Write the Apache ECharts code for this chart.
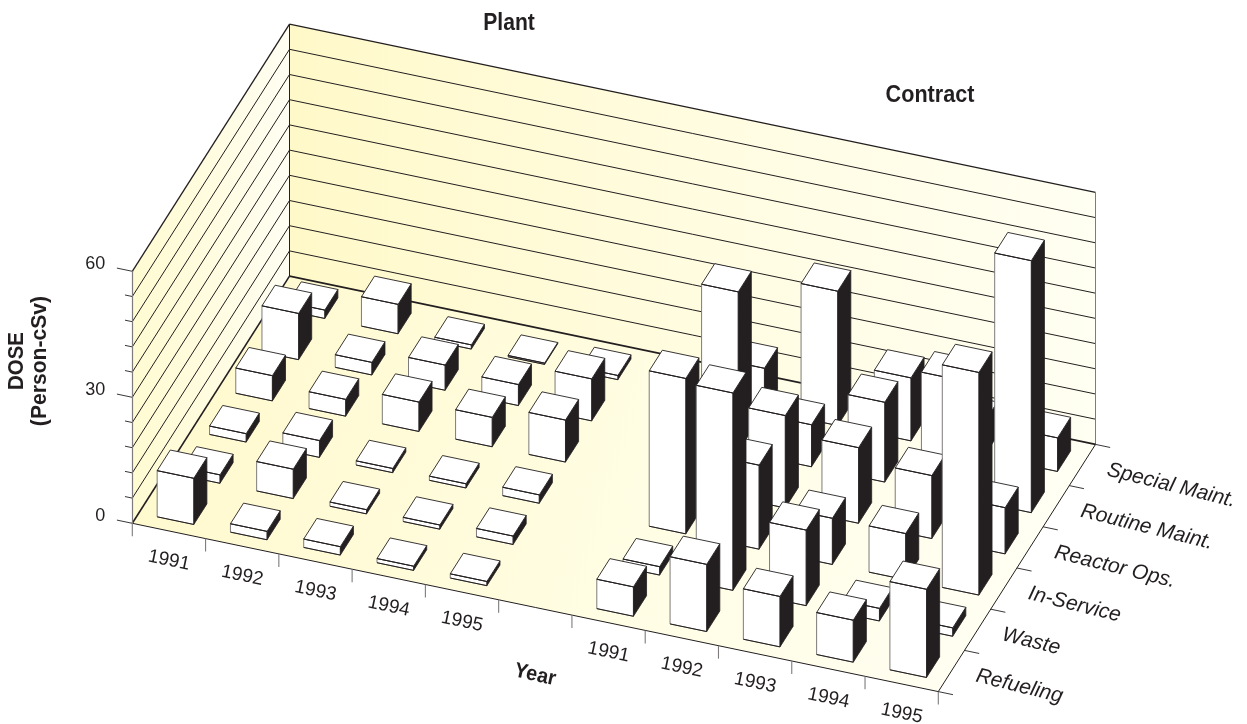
<!DOCTYPE html>
<html><head><meta charset="utf-8">
<style>html,body{margin:0;padding:0;background:#fff}#c{width:1247px;height:724px}</style>
<script src="https://cdn.jsdelivr.net/npm/echarts@6/dist/echarts.min.js"></script>
</head><body><div id="c"></div>
<script>
var years = ['1991','1992','1993','1994','1995','','1991','1992','1993','1994','1995'];
var activities = ['Refueling','Waste','In-Service','Reactor Ops.','Routine Maint.','Special Maint.'];
var yearSlots = [0,1,2,3,4,6,7,8,9,10];
// One list per activity: plant 1991-95 followed by contract 1991-95
var refueling    = [11, 2, 2, 1, 1,   7, 16, 12, 10, 21];
var waste        = [ 2, 7, 1, 1, 2,   2, 47, 18,  3,  2];
var inService    = [ 2, 4, 1, 1, 2,  37, 20, 11, 11, 53];
var reactorOps   = [ 6, 4, 7, 7,10,  12, 22, 18, 15, 11];
var routineMaint = [11, 3, 6, 5,10,  38, 10, 19, 28, 60];
var specialMaint = [ 2, 7, 1,0.3,1,  10, 32, 15,  8,  8];
var doseRows = [refueling, waste, inService, reactorOps, routineMaint, specialMaint];
var doseTicks = [0,30,60];

var INK='#231F20', GREY='#7d7b7b';
var SLANT_Y=15.3, DEPTH_X=26.2, DEPTH_Y=-41.2, BW=0.5;
var NX=years.length, ND=activities.length, ZMAX=60, ZSTEP=6;
var FONT='"Liberation Sans",Arial,sans-serif';

function projector(api){
  return function(x,d,z){
    var p=api.coord([x,z]);
    return [p[0]+d*DEPTH_X, p[1]+x*SLANT_Y+d*DEPTH_Y];
  };
}
function grad(x1,y1,x2,y2,c1,c2,c3){
  return new echarts.graphic.LinearGradient(x1,y1,x2,y2,[{offset:0,color:c1},{offset:.5,color:c2},{offset:1,color:c3}]);
}
function poly(pts,fill,stroke,lw){return {type:'polygon',shape:{points:pts},style:{fill:fill,stroke:stroke||null,lineWidth:lw||0}};}
function line(a,b,c,lw){return {type:'line',shape:{x1:a[0],y1:a[1],x2:b[0],y2:b[1]},style:{stroke:c||INK,lineWidth:lw||1}};}
function label(t,p,rot,align,size,italic){
  return {type:'text',x:p[0],y:p[1],rotation:rot,style:{text:t,fill:INK,align:align,verticalAlign:'middle',
    font:(italic?'italic ':'')+size+'px '+FONT}};
}

function renderRoom(params,api){
  var P=projector(api), c=[];
  // walls and floor
  c.push(poly([P(0,0,0),P(0,ND,0),P(0,ND,ZMAX),P(0,0,ZMAX)],grad(0,0,1,0,'#FFFBD2','#FFFCE0','#FFFEF2')));
  c.push(poly([P(0,ND,0),P(NX,ND,0),P(NX,ND,ZMAX),P(0,ND,ZMAX)],grad(0,0,1,0,'#FFF9C9','#FFFCE0','#FFFFF2')));
  c.push(poly([P(0,0,0),P(NX,0,0),P(NX,ND,0),P(0,ND,0)],grad(0,0.2,1,0.9,'#FFF9CC','#FFFDE2','#FFFFF6')));
  // wall rules
  for(var z=ZSTEP;z<=ZMAX;z+=ZSTEP){
    c.push(line(P(0,0,z),P(0,ND,z),INK,z===ZMAX?1.3:1));
    c.push(line(P(0,ND,z),P(NX,ND,z),INK,z===ZMAX?1.3:1));
  }
  c.push(line(P(0,ND,0),P(0,ND,ZMAX),INK,1));
  c.push(line(P(NX,ND,0),P(NX,ND,ZMAX),GREY,1));
  c.push(line(P(0,0,0),P(0,ND,0),INK,1.6));
  c.push(line(P(0,ND,0),P(NX,ND,0),INK,1.6));
  c.push(line(P(0,0,0),P(NX,0,0),INK,1));
  c.push(line(P(NX,0,0),P(NX,ND,0),INK,1));
  // height ticks
  for(z=0;z<=ZMAX;z+=ZSTEP){
    var major=doseTicks.indexOf(z)>=0;
    c.push(line(P(major?-0.21:-0.1,0,z),P(0,0,z),INK,0.9));
  }
  // year ticks
  for(var x=0;x<=NX;x++){var q=P(x,0,0);c.push(line(q,[q[0],q[1]+13],GREY,1.1));}
  // activity ticks
  for(var d=0;d<=ND;d++){c.push(line(P(NX,d,0),P(NX+0.2,d,0),INK,0.9));}
  // labels
  var rot=-Math.atan2(SLANT_Y,api.coord([1,0])[0]-api.coord([0,0])[0]);
  years.forEach(function(y,i){
    if(!y)return; var b=P(i+0.5,0,0);
    c.push(label(y,[b[0],b[1]+29.5],rot,'center',19));
  });
  activities.forEach(function(a,i){
    var b=P(NX,i,0);
    c.push(label(a,[b[0]+38,b[1]-16],rot*1.18,'left',21,true));
  });
  return {type:'group',children:c};
}

function renderBar(params,api){
  var P=projector(api), i=api.value(0), j=api.value(1), v=api.value(2);
  var x0=i+(1-BW)/2, x1=x0+BW, d0=j+(1-BW)/2, d1=d0+BW;
  var fb=P(x0,d0,0), fbr=P(x1,d0,0), ft=P(x0,d0,v), ftr=P(x1,d0,v),
      bt=P(x0,d1,v), btr=P(x1,d1,v), bbr=P(x1,d1,0);
  return {type:'group',children:[
    poly([fb,fbr,ftr,ft],'#fff',GREY,1),
    poly([ftr,fbr,bbr,btr],INK,INK,0.8),
    poly([ft,ftr,btr,bt],'#fff',INK,0.9),
    line(fb,fbr,INK,1),
    line(ft,ftr,INK,1)
  ]};
}

var barData=[];
for(var j=ND-1;j>=0;j--){
  yearSlots.forEach(function(slot,k){ barData.push([slot,j,doseRows[j][k]]); });
}

var chart=echarts.init(document.getElementById('c'),null,{renderer:'canvas'});
chart.setOption({
  animation:false,
  backgroundColor:'#fff',
  grid:{left:132.3,top:271.3,width:806,height:252,containLabel:false},
  xAxis:{type:'value',min:0,max:NX,show:false},
  yAxis:{type:'value',min:0,max:ZMAX,interval:ZSTEP,z:10,
    splitLine:{show:false},axisTick:{show:false},
    axisLine:{show:true,lineStyle:{color:GREY,width:1.2}},
    axisLabel:{margin:27,fontSize:18,color:INK,fontFamily:FONT,verticalAlign:'bottom',lineHeight:14,
      formatter:function(v){return doseTicks.indexOf(v)>=0?String(v):'';}}
  },
  graphic:[
    {type:'text',x:509,y:23,scaleX:0.88,style:{text:'Plant',fill:INK,align:'center',verticalAlign:'middle',font:'bold 24px '+FONT}},
    {type:'text',x:930,y:95,scaleX:0.9,style:{text:'Contract',fill:INK,align:'center',verticalAlign:'middle',font:'bold 24px '+FONT}},
    {type:'text',x:535,y:675,scaleX:0.95,rotation:-0.22,style:{text:'Year',fill:INK,align:'center',verticalAlign:'middle',font:'bold 21px '+FONT}},
    {type:'text',x:16.5,y:361,rotation:Math.PI/2,scaleX:0.93,style:{text:'DOSE',fill:INK,align:'center',verticalAlign:'middle',font:'bold 22px '+FONT}},
    {type:'text',x:40,y:361,rotation:Math.PI/2,scaleX:0.96,style:{text:'(Person-cSv)',fill:INK,align:'center',verticalAlign:'middle',font:'bold 22px '+FONT}}
  ],
  series:[
    {type:'custom',coordinateSystem:'cartesian2d',clip:false,silent:true,data:[[0,0]],renderItem:renderRoom,z:1},
    {type:'custom',coordinateSystem:'cartesian2d',clip:false,silent:true,data:barData,
      encode:{x:0,y:2},renderItem:renderBar,z:2}
  ]
});
</script></body></html>
